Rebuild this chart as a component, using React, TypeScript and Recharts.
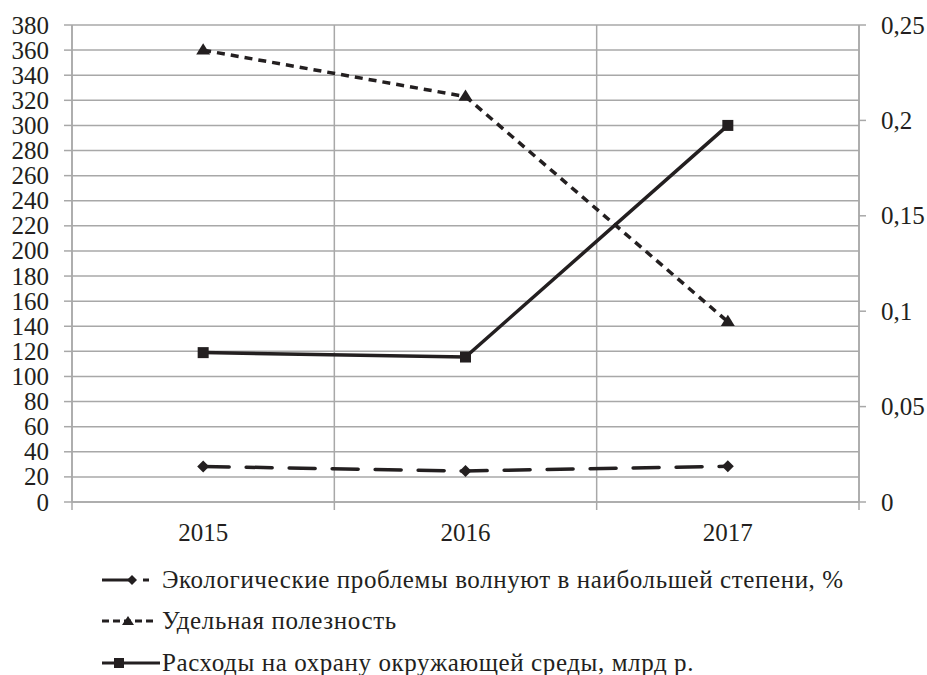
import React from 'react';
import { LineChart, Line, XAxis, YAxis, CartesianGrid, Legend } from 'recharts';

const years = ['2015', '2016', '2017'];
const ecoConcern = [28.3, 24.7, 28.5];
const specificUtility = [0.2368, 0.2125, 0.0945];
const envExpenses = [119, 115.5, 300];
const leftTicks = [0, 20, 40, 60, 80, 100, 120, 140, 160, 180, 200, 220, 240, 260, 280, 300, 320, 340, 360, 380];
const rightTicks = [0, 0.05, 0.1, 0.15, 0.2, 0.25];
const seriesNames = [
  'Экологические проблемы волнуют в наибольшей степени, %',
  'Удельная полезность',
  'Расходы на охрану окружающей среды, млрд р.',
];

const boundaryTicks = years.map((_, i) => i).concat([years.length]);
const centerTicks = years.map((_, i) => i + 0.5);
const data = years.map((year, i) => ({
  pos: i + 0.5,
  year,
  eco: ecoConcern[i],
  util: specificUtility[i],
  exp: envExpenses[i],
}));

const FONT = 'Liberation Serif';
const INK = '#231f20';
const GRID = '#a8a8a8';

const LeftTick = (props: any) => {
  const { x, y, payload } = props;
  return (
    <text x={x} y={y} dy={8.5} textAnchor="end" fontFamily={FONT} fontSize={25} fill={INK}>
      {payload.value}
    </text>
  );
};
const RightTick = (props: any) => {
  const { x, y, payload } = props;
  return (
    <text x={x} y={y} dy={8.5} textAnchor="start" fontFamily={FONT} fontSize={25} fill={INK}>
      {String(payload.value).replace('.', ',')}
    </text>
  );
};
const BottomTick = (props: any) => {
  const { x, y, payload } = props;
  return (
    <text x={x} y={y} dy={38} textAnchor="middle" fontFamily={FONT} fontSize={25} fill={INK}>
      {years[Math.floor(payload.value)]}
    </text>
  );
};

const Diamond = (props: any) => {
  const { cx, cy } = props;
  if (cx == null || cy == null) return <g key={props.key} />;
  const r = 6;
  return (
    <path key={props.key} d={`M${cx},${cy - r} L${cx + r},${cy} L${cx},${cy + r} L${cx - r},${cy} Z`} fill={INK} />
  );
};
const Triangle = (props: any) => {
  const { cx, cy } = props;
  if (cx == null || cy == null) return <g key={props.key} />;
  const r = 7;
  return (
    <path key={props.key} d={`M${cx},${cy - r} L${cx + r},${cy + r * 0.6} L${cx - r},${cy + r * 0.6} Z`} fill={INK} />
  );
};
const Square = (props: any) => {
  const { cx, cy } = props;
  if (cx == null || cy == null) return <g key={props.key} />;
  const r = 5.5;
  return <rect key={props.key} x={cx - r} y={cy - r} width={2 * r} height={2 * r} fill={INK} />;
};

const LegendContent = () => {
  const rowH = 41.5;
  return (
    <div style={{ fontFamily: FONT, fontSize: 25, letterSpacing: 0.6, color: INK }}>
      {seriesNames.map((name, i) => (
        <div key={name} style={{ height: rowH, display: 'flex', alignItems: 'center', paddingLeft: 102 }}>
          <svg width={60} height={20} style={{ display: 'block', flex: 'none' }}>
            {i === 0 && (
              <g>
                <line x1={0} y1={10} x2={30} y2={10} stroke={INK} strokeWidth={3} />
                <path d="M30,5 L35,10 L30,15 L25,10 Z" fill={INK} />
                <line x1={41} y1={10} x2={47} y2={10} stroke={INK} strokeWidth={3} />
              </g>
            )}
            {i === 1 && (
              <g>
                <line x1={0} y1={10} x2={54} y2={10} stroke={INK} strokeWidth={3} strokeDasharray="7 4" />
                <path d="M26,5 L32,14 L20,14 Z" fill={INK} />
              </g>
            )}
            {i === 2 && (
              <g>
                <line x1={0} y1={10} x2={58} y2={10} stroke={INK} strokeWidth={3} />
                <rect x={12} y={5} width={10} height={10} fill={INK} />
              </g>
            )}
          </svg>
          <span style={{ whiteSpace: 'nowrap' }}>{name}</span>
        </div>
      ))}
    </div>
  );
};

export default function App() {
  return (
    <div style={{ position: 'absolute', left: 0, top: 0, width: 927, height: 675, background: '#fff' }}>
      <LineChart width={927} height={675} data={data} margin={{ top: 25, right: 0, bottom: 171, left: 0 }}>
        <CartesianGrid xAxisId="grid" yAxisId="left" stroke={GRID} strokeWidth={1.5} />
        <XAxis
          xAxisId="grid"
          type="number"
          dataKey="pos"
          domain={[0, years.length]}
          ticks={boundaryTicks}
          interval={0}
          allowDataOverflow
          height={1}
          tickFormatter={() => ''}
          tickSize={8}
          tickLine={{ stroke: GRID, strokeWidth: 1.5 }}
          axisLine={{ stroke: GRID, strokeWidth: 1.5 }}
        />
        <XAxis
          xAxisId="labels"
          type="number"
          dataKey="pos"
          domain={[0, years.length]}
          ticks={centerTicks}
          interval={0}
          allowDataOverflow
          height={1}
          tickSize={0}
          tickMargin={0}
          tickLine={false}
          axisLine={false}
          tick={<BottomTick />}
        />
        <YAxis
          yAxisId="left"
          domain={[0, 380]}
          ticks={leftTicks}
          interval={0}
          width={72}
          tickSize={8}
          tickMargin={15}
          tick={<LeftTick />}
          tickLine={{ stroke: GRID, strokeWidth: 1.5 }}
          axisLine={{ stroke: GRID, strokeWidth: 1.5 }}
        />
        <YAxis
          yAxisId="right"
          orientation="right"
          domain={[0, 0.25]}
          ticks={rightTicks}
          interval={0}
          width={68}
          tickSize={7}
          tickMargin={15}
          tick={<RightTick />}
          tickLine={{ stroke: GRID, strokeWidth: 1.5 }}
          axisLine={{ stroke: GRID, strokeWidth: 1.5 }}
        />
        <Line
          xAxisId="labels"
          yAxisId="left"
          dataKey="eco"
          name={seriesNames[0]}
          stroke={INK}
          strokeWidth={3.5}
          strokeDasharray="26 17"
          strokeLinecap="round"
          dot={(p: any) => <Diamond {...p} />}
          activeDot={false}
          isAnimationActive={false}
        />
        <Line
          xAxisId="grid"
          yAxisId="right"
          dataKey="util"
          name={seriesNames[1]}
          stroke={INK}
          strokeWidth={3.5}
          strokeDasharray="8 6"
          dot={(p: any) => <Triangle {...p} />}
          activeDot={false}
          isAnimationActive={false}
        />
        <Line
          xAxisId="grid"
          yAxisId="left"
          dataKey="exp"
          name={seriesNames[2]}
          stroke={INK}
          strokeWidth={3.5}
          dot={(p: any) => <Square {...p} />}
          activeDot={false}
          isAnimationActive={false}
        />
        <Legend
          layout="vertical"
          align="center"
          verticalAlign="middle"
          content={() => <LegendContent />}
          wrapperStyle={{ left: 0, top: 559, width: 927, height: 125 }}
        />
      </LineChart>
    </div>
  );
}
